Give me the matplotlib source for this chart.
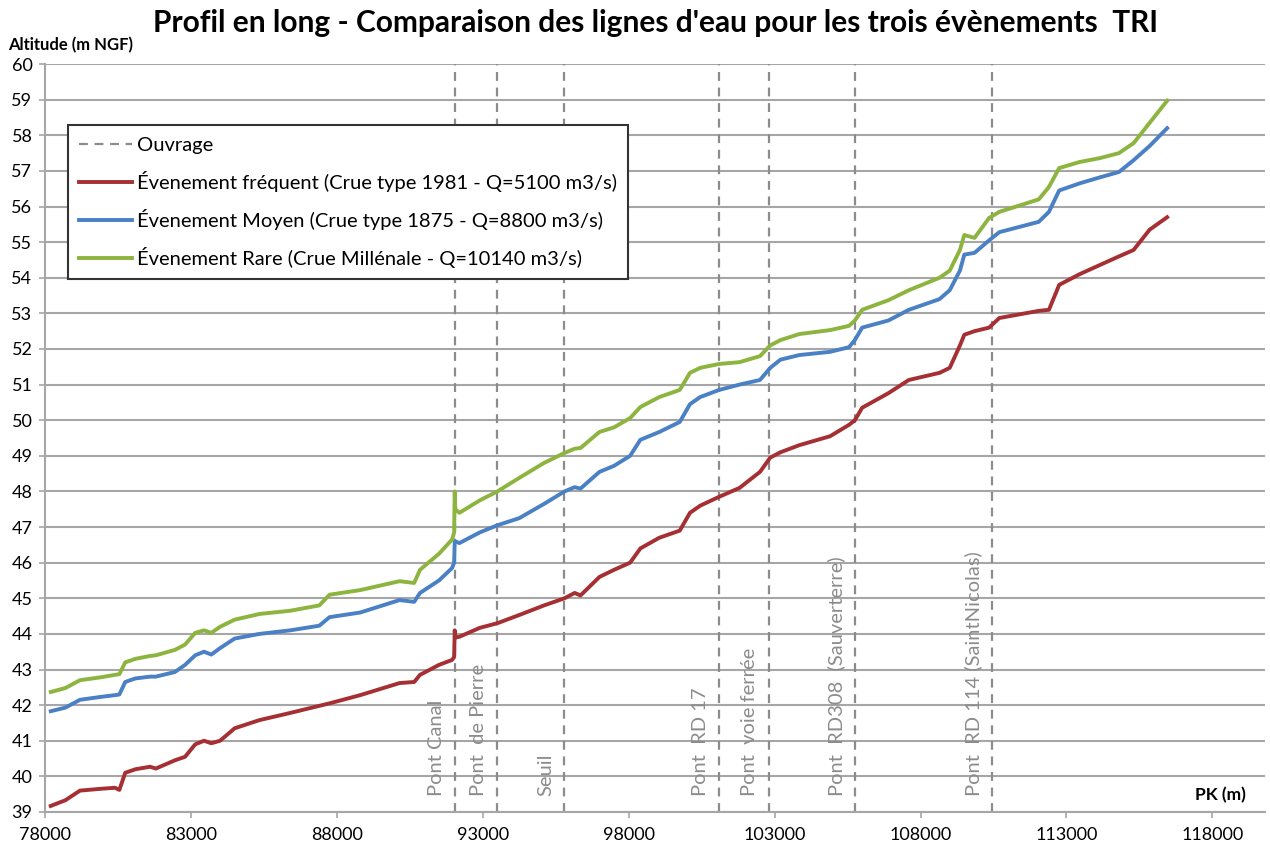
import matplotlib
matplotlib.use("Agg")
import matplotlib.pyplot as plt
import matplotlib.transforms as mtransforms

plt.rcParams["font.family"] = ["Lato", "DejaVu Sans"]

# PK (m) of the profile points, shared by the three water lines
pk = [78200, 78700, 79200, 79900, 80400, 80550, 80750, 81100, 81600, 81800,
      82450, 82800, 83150, 83450, 83700, 84000, 84500, 85350, 86400, 87400,
      87750, 88800, 90150, 90650, 90850, 91500, 91950, 92020, 92040, 92060,
      92200, 92900, 93500, 94250, 95100, 95800, 96150, 96350, 97000, 97500,
      98050, 98400, 99050, 99750, 100100, 100450, 101100, 101800, 102500, 102850,
      103200, 103850, 104900, 105550, 105750, 106000, 106900, 107600, 108650, 109000,
      109350, 109500, 109850, 110350, 110700, 112050, 112400, 112750, 113450, 114150,
      114800, 115300, 115850, 116450]

frequent = [39.17, 39.33, 39.6, 39.65, 39.68, 39.62, 40.1, 40.2, 40.27, 40.22,
            40.45, 40.55, 40.9, 41.0, 40.93, 41.0, 41.35, 41.58, 41.78, 41.98,
            42.05, 42.28, 42.62, 42.65, 42.85, 43.13, 43.27, 43.35, 44.1, 43.9,
            43.92, 44.17, 44.3, 44.53, 44.8, 45.0, 45.15, 45.08, 45.6, 45.8,
            46.0, 46.4, 46.7, 46.9, 47.4, 47.6, 47.85, 48.1, 48.55, 48.95,
            49.1, 49.3, 49.55, 49.87, 50.0, 50.35, 50.76, 51.13, 51.33, 51.47,
            52.1, 52.4, 52.5, 52.6, 52.87, 53.07, 53.1, 53.8, 54.1, 54.36,
            54.6, 54.78, 55.35, 55.7]

moyen = [41.83, 41.93, 42.15, 42.23, 42.28, 42.3, 42.65, 42.75, 42.8, 42.8,
         42.93, 43.13, 43.4, 43.5, 43.42, 43.6, 43.87, 44.0, 44.1, 44.23,
         44.47, 44.6, 44.95, 44.9, 45.15, 45.5, 45.85, 46.0, 46.6, 46.6,
         46.55, 46.85, 47.05, 47.25, 47.65, 48.0, 48.12, 48.08, 48.55, 48.72,
         49.0, 49.45, 49.67, 49.95, 50.45, 50.65, 50.85, 51.0, 51.13, 51.47,
         51.7, 51.83, 51.92, 52.05, 52.25, 52.6, 52.8, 53.1, 53.4, 53.65,
         54.2, 54.65, 54.7, 55.05, 55.28, 55.57, 55.85, 56.45, 56.65, 56.82,
         56.97, 57.3, 57.7, 58.2]

rare = [42.37, 42.48, 42.7, 42.78, 42.85, 42.87, 43.2, 43.3, 43.38, 43.4,
        43.55, 43.7, 44.03, 44.1, 44.03, 44.2, 44.4, 44.56, 44.65, 44.8,
        45.1, 45.23, 45.48, 45.43, 45.8, 46.25, 46.65, 46.85, 48.0, 47.5,
        47.4, 47.75, 48.0, 48.38, 48.8, 49.08, 49.2, 49.22, 49.67, 49.8,
        50.06, 50.37, 50.65, 50.85, 51.33, 51.47, 51.58, 51.63, 51.8, 52.1,
        52.25, 52.42, 52.53, 52.65, 52.8, 53.1, 53.37, 53.65, 54.0, 54.2,
        54.78, 55.2, 55.12, 55.68, 55.85, 56.2, 56.55, 57.08, 57.25, 57.36,
        57.5, 57.78, 58.35, 58.97]

# structures (ouvrages) along the river
ouvrage_pk = [92050, 93500, 95800, 101100, 102800, 105750, 110450]
ouvrage_names = ["Pont Canal", "Pont  de Pierre", "Seuil", "Pont  RD 17",
                 "Pont  voie ferrée", "Pont  RD308  (Sauverterre)",
                 "Pont  RD 114 (SaintNicolas)"]

labels = ["Évenement fréquent (Crue type 1981 - Q=5100 m3/s)",
          "Évenement Moyen (Crue type 1875 - Q=8800 m3/s)",
          "Évenement Rare (Crue Millénale - Q=10140 m3/s)"]
colors = ["#a52f32", "#4a80c4", "#8db43e"]

fig = plt.figure(figsize=(12.7, 8.43), dpi=100)
ax = fig.add_axes([0.0354, 0.0368, 0.9606, 0.8872])

ax.set_xlim(78000, 119800)
ax.set_ylim(39, 60)
ax.set_xticks(range(78000, 118001, 5000))
ax.set_yticks(range(39, 61))
ax.grid(axis="y", color="#a6a6a6", linewidth=1.5)
ax.set_axisbelow(True)

for side in ["top", "right"]:
    ax.spines[side].set_visible(False)
for side in ["left", "bottom"]:
    ax.spines[side].set_color("#a6a6a6")
    ax.spines[side].set_linewidth(1.5)
ax.tick_params(colors="#a6a6a6", labelcolor="black", labelsize=13, length=4, width=1.2)
ax.tick_params(axis="x", pad=7)
ax.tick_params(axis="y", pad=5)

shift = mtransforms.offset_copy(ax.transData, fig=fig, x=-19, y=0, units="dots")
for i, (x, name) in enumerate(zip(ouvrage_pk, ouvrage_names)):
    ax.axvline(x, color="#8c8c8c", linestyle=(0, (4, 3)), linewidth=1.6,
               label="Ouvrage" if i == 0 else None)
    ax.text(x, 39.45, name, rotation=90, ha="center", va="bottom", color="#8c8c8c",
            fontsize=14.5, transform=shift)

for vals, lab, c in zip([frequent, moyen, rare], labels, colors):
    ax.plot(pk, vals, color=c, linewidth=2.8, label=lab)

leg = ax.legend(loc="upper left", bbox_to_anchor=(0.019, 0.918), fontsize=14.5,
                frameon=True, fancybox=False, edgecolor="#333333", framealpha=1,
                labelspacing=0.85, handlelength=2.6, borderpad=0.55, handletextpad=0.25,
                borderaxespad=0)
leg.get_frame().set_linewidth(1.5)

fig.text(0.516, 0.973, "Profil en long - Comparaison des lignes d'eau pour les trois évènements  TRI",
         ha="center", va="center", fontsize=21.5, fontweight="bold")
fig.text(0.006, 0.946, "Altitude (m NGF)", ha="left", va="center", fontsize=12, fontweight="bold")
fig.text(0.961, 0.057, "PK (m)", ha="center", va="center", fontsize=12.5, fontweight="bold")

fig.savefig("out.png", dpi=100)
